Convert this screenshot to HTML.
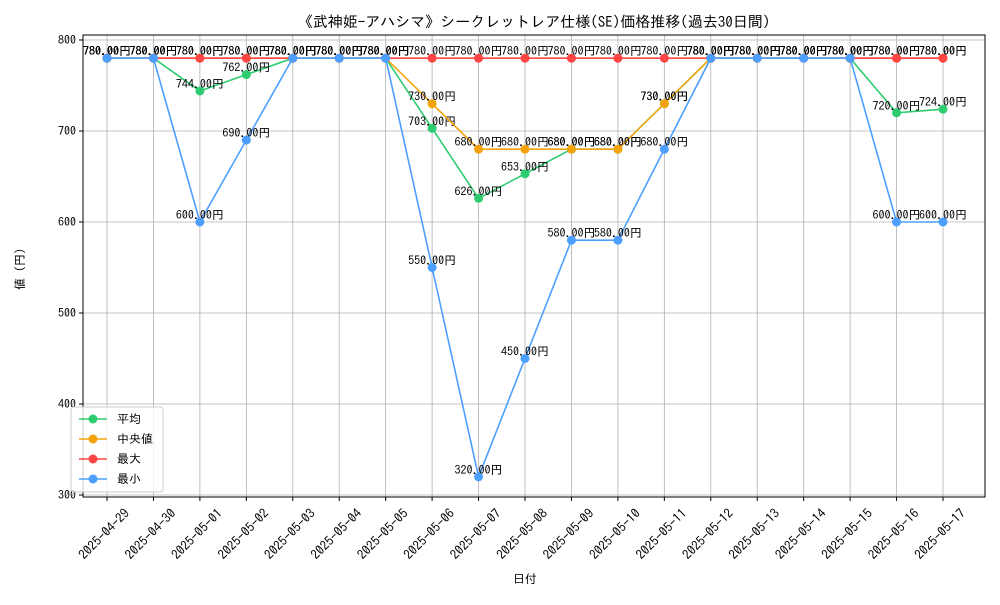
<!DOCTYPE html>
<html><head><meta charset="utf-8"><style>
body{margin:0;background:#fff}
text{font-family:"IPAGothic","Liberation Sans","Noto Sans CJK JP",sans-serif}
</style></head><body>
<svg id="chart" width="1000" height="600" xmlns="http://www.w3.org/2000/svg"></svg>
<script>
const dates=["2025-04-29","2025-04-30","2025-05-01","2025-05-02","2025-05-03","2025-05-04","2025-05-05","2025-05-06","2025-05-07","2025-05-08","2025-05-09","2025-05-10","2025-05-11","2025-05-12","2025-05-13","2025-05-14","2025-05-15","2025-05-16","2025-05-17"];
const avgVals=[780,780,744,762,780,780,780,703,626,653,680,680,730,780,780,780,780,720,724];
const medVals=[780,780,780,780,780,780,780,730,680,680,680,680,730,780,780,780,780,780,780];
const maxVals=[780,780,780,780,780,780,780,780,780,780,780,780,780,780,780,780,780,780,780];
const minVals=[780,780,600,690,780,780,780,550,320,450,580,580,680,780,780,780,780,600,600];
const yTicks=[300,400,500,600,700,800];
const svg=document.getElementById('chart');
const NS='http://www.w3.org/2000/svg';
const L=83,R=985,T=35,B=497;
const x=i=>107+i*(943-107)/(dates.length-1);
const y=v=>495-(v-300)*(495-40)/500;
function mk(tag,attrs,parent){const e=document.createElementNS(NS,tag);for(const k in attrs)e.setAttribute(k,attrs[k]);(parent||svg).appendChild(e);return e;}
yTicks.forEach(v=>{
 const g=mk('line',{x1:L,x2:R,y1:y(v),y2:y(v),stroke:'#b0b0b0','stroke-width':0.8});
 
 
 mk('line',{x1:L-4,x2:L,y1:y(v),y2:y(v),stroke:'#000'});
 const t=mk('text',{x:L-7,y:y(v)+4,'text-anchor':'end','font-size':12});t.textContent=v;
 
 
});
dates.forEach((d,i)=>{
 const g=mk('line',{x1:x(i),x2:x(i),y1:T,y2:B,stroke:'#b0b0b0','stroke-width':0.8});
 
 
 mk('line',{x1:x(i),x2:x(i),y1:B,y2:B+4,stroke:'#000'});
 const cx=x(i)-3,cy=534;
 const t=mk('text',{x:cx,y:cy+4.5,'text-anchor':'middle','font-size':13,transform:`rotate(-45 ${cx} ${cy})`});t.textContent=d;
 
 
});
const frame=mk('rect',{x:L,y:T,width:R-L,height:B-T,fill:'none',stroke:'#000','stroke-width':1});


const series=[["avg",avgVals,"#2ecc71","平均"],["median",medVals,"#f5a30a","中央値"],["max",maxVals,"#ff4444","最大"],["min",minVals,"#4d9fff","最小"]];
series.forEach(([n,vals,c])=>{
 const p=mk('polyline',{points:vals.map((v,i)=>x(i)+','+y(v)).join(' '),fill:'none',stroke:c,'stroke-width':1.6});
 
 
 vals.forEach((v,i)=>{
  const m=mk('circle',{cx:x(i),cy:y(v),r:4.5,fill:c});
  
  
  const t=mk('text',{x:x(i),y:y(v)-3,'text-anchor':'middle','font-size':12});t.textContent=v.toFixed(2)+'円';
  
  
 });
});
const title=mk('text',{x:534,y:27,'text-anchor':'middle','font-size':15});title.textContent='《武神姫-アハシマ》シークレットレア仕様(SE)価格推移(過去30日間)';


const xl=mk('text',{x:525,y:583,'text-anchor':'middle','font-size':12});xl.textContent='日付';


const yl=mk('text',{x:24,y:266,'text-anchor':'middle','font-size':12,transform:'rotate(-90 24 266)'});yl.textContent='値（円）';


const lg=mk('rect',{x:71,y:407,width:92,height:85,fill:'#fff','fill-opacity':0.8,stroke:'#ccc',rx:3});


series.forEach(([n,vals,c,lab],k)=>{
 const yy=419+k*20;
 mk('line',{x1:79,x2:107,y1:yy,y2:yy,stroke:c,'stroke-width':1.6});
 mk('circle',{cx:93,cy:yy,r:4.5,fill:c});
 const t=mk('text',{x:117,y:yy+4,'font-size':12});t.textContent=lab;
 
 
});
</script>
</body></html>
